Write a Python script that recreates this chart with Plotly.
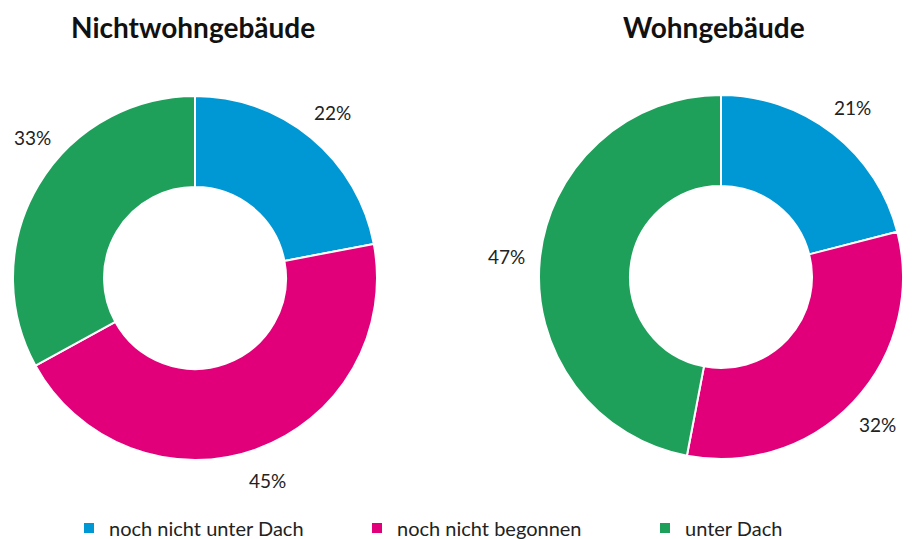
import math
import plotly.graph_objects as go

categories = ["noch nicht unter Dach", "noch nicht begonnen", "unter Dach"]
nichtwohn_values = [22, 45, 33]
wohn_values = [21, 32, 47]
titles = ["Nichtwohngebäude", "Wohngebäude"]
colors = ["#0098d4", "#e2007a", "#1fa05a"]

# page body has an 8px default margin; work in page pixels shifted by it
OFF = 8
W, H = 920 - OFF, 539 - OFF
FONT = "Lato"

def px(x):
    return (x - OFF) / W

def py(y):
    return 1 - (y - OFF) / H

def dom(cx, cy, r):
    return dict(x=[px(cx - r), px(cx + r)], y=[py(cy + r), py(cy - r)])

pies = [(nichtwohn_values, 195, 278), (wohn_values, 721, 277)]
RADIUS = 182
LABEL_R = 215
XMIN, XMAX = OFF + 24, 920 - 26

fig = go.Figure()
for i, (vals, cx, cy) in enumerate(pies):
    fig.add_trace(go.Pie(
        labels=categories, values=vals, domain=dom(cx, cy, RADIUS), hole=0.5,
        sort=False, direction="clockwise", rotation=0,
        marker=dict(colors=colors, line=dict(color="white", width=2)),
        textinfo="none",
        showlegend=(i == 0), hoverinfo="label+percent",
    ))
    total = sum(vals)
    cum = 0
    for v in vals:
        theta = 2 * math.pi * (cum + v / 2) / total
        cum += v
        s, c = math.sin(theta), math.cos(theta)
        lx = cx + LABEL_R * s
        # keep the label inside the page by sliding it along the label circle
        if lx < XMIN or lx > XMAX:
            tx = XMIN if lx < XMIN else XMAX
            s = (tx - cx) / LABEL_R
            c = math.copysign(math.sqrt(max(0.0, 1 - s * s)), c)
            lx = cx + LABEL_R * s
        ly = cy - LABEL_R * c
        fig.add_annotation(x=px(lx), y=py(ly), xref="paper", yref="paper",
                           text=f"{v}%", showarrow=False, xanchor="center", yanchor="middle",
                           font=dict(family=FONT, size=19, color="#222"))

for t, cx in zip(titles, [193, 714]):
    fig.add_annotation(x=px(cx), y=py(27), xref="paper", yref="paper", text="<b>" + t + "</b>",
                       xanchor="center", yanchor="middle",
                       showarrow=False, font=dict(family=FONT, size=28, color="#111"))

fig.update_layout(
    width=W, height=H, margin=dict(l=0, r=0, t=0, b=0, autoexpand=False),
    paper_bgcolor="white", plot_bgcolor="white",
    font=dict(family=FONT, color="#222"),
    legend=dict(orientation="h", x=px(69), xanchor="left", y=py(528), yanchor="middle",
                font=dict(family=FONT, size=20, color="#222"),
                entrywidth=243, entrywidthmode="pixels", itemwidth=30,
                bgcolor="rgba(0,0,0,0)"),
)
fig.write_html("out.html")
